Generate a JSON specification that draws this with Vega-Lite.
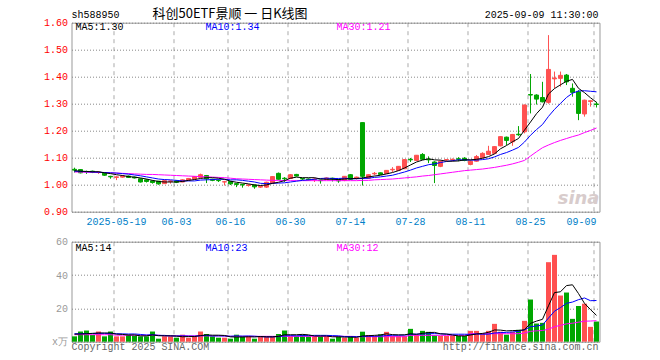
{
  "$schema": "https://vega.github.io/schema/vega-lite/v6.json",
  "background": "white",
  "padding": {"left": 0.5, "top": 6.7, "right": 0, "bottom": 0},
  "config": {
    "view": {"stroke": "#999999", "strokeWidth": 1},
    "font": "Liberation Mono",
    "axis": {"labelFont": "Liberation Mono", "labelFontSize": 10, "ticks": false, "domain": false, "title": null, "labelOverlap": false}
  },
  "data": {"values": [
    {"date":"2025-05-08","open":1.057,"high":1.063,"low":1.045,"close":1.054,"ma5":1.052,"ma10":1.050,"ma30":1.047,"vol":3.2,"vma5":4.5,"vma10":4.8,"vma30":4.2},
    {"date":"2025-05-09","open":1.056,"high":1.058,"low":1.042,"close":1.044,"ma5":1.050,"ma10":1.049,"ma30":1.047,"vol":6.1,"vma5":4.6,"vma10":4.8,"vma30":4.2},
    {"date":"2025-05-12","open":1.049,"high":1.052,"low":1.040,"close":1.048,"ma5":1.049,"ma10":1.048,"ma30":1.046,"vol":6.7,"vma5":4.8,"vma10":4.9,"vma30":4.2},
    {"date":"2025-05-13","open":1.050,"high":1.052,"low":1.043,"close":1.046,"ma5":1.048,"ma10":1.047,"ma30":1.046,"vol":4.0,"vma5":5.0,"vma10":4.9,"vma30":4.2},
    {"date":"2025-05-14","open":1.045,"high":1.050,"low":1.040,"close":1.047,"ma5":1.048,"ma10":1.046,"ma30":1.045,"vol":6.1,"vma5":5.22,"vma10":5.0,"vma30":4.2},
    {"date":"2025-05-15","open":1.043,"high":1.044,"low":1.033,"close":1.035,"ma5":1.044,"ma10":1.045,"ma30":1.045,"vol":3.2,"vma5":5.22,"vma10":5.0,"vma30":4.2},
    {"date":"2025-05-16","open":1.031,"high":1.033,"low":1.022,"close":1.029,"ma5":1.041,"ma10":1.044,"ma30":1.044,"vol":6.1,"vma5":5.22,"vma10":4.9,"vma30":4.2},
    {"date":"2025-05-19","open":1.027,"high":1.031,"low":1.017,"close":1.029,"ma5":1.037,"ma10":1.043,"ma30":1.043,"vol":3.2,"vma5":4.52,"vma10":4.8,"vma30":3.9},
    {"date":"2025-05-20","open":1.028,"high":1.035,"low":1.026,"close":1.032,"ma5":1.034,"ma10":1.041,"ma30":1.042,"vol":3.2,"vma5":4.36,"vma10":4.7,"vma30":3.9},
    {"date":"2025-05-21","open":1.032,"high":1.034,"low":1.025,"close":1.027,"ma5":1.030,"ma10":1.039,"ma30":1.041,"vol":4.2,"vma5":3.98,"vma10":4.6,"vma30":3.9},
    {"date":"2025-05-22","open":1.028,"high":1.030,"low":1.023,"close":1.025,"ma5":1.028,"ma10":1.036,"ma30":1.040,"vol":3.6,"vma5":4.06,"vma10":4.64,"vma30":3.9},
    {"date":"2025-05-23","open":1.022,"high":1.023,"low":1.008,"close":1.010,"ma5":1.025,"ma10":1.033,"ma30":1.039,"vol":3.2,"vma5":3.48,"vma10":4.35,"vma30":3.9},
    {"date":"2025-05-26","open":1.018,"high":1.020,"low":1.008,"close":1.012,"ma5":1.021,"ma10":1.029,"ma30":1.038,"vol":3.2,"vma5":3.48,"vma10":4.0,"vma30":3.9},
    {"date":"2025-05-27","open":1.014,"high":1.016,"low":1.004,"close":1.008,"ma5":1.016,"ma10":1.025,"ma30":1.038,"vol":6.1,"vma5":4.06,"vma10":4.21,"vma30":3.9},
    {"date":"2025-05-28","open":1.013,"high":1.014,"low":1.000,"close":1.003,"ma5":1.012,"ma10":1.021,"ma30":1.037,"vol":1.8,"vma5":3.58,"vma10":3.78,"vma30":3.9},
    {"date":"2025-05-29","open":1.004,"high":1.018,"low":1.003,"close":1.015,"ma5":1.010,"ma10":1.019,"ma30":1.036,"vol":3.2,"vma5":3.5,"vma10":3.78,"vma30":3.5},
    {"date":"2025-05-30","open":1.012,"high":1.016,"low":1.004,"close":1.014,"ma5":1.010,"ma10":1.018,"ma30":1.035,"vol":3.2,"vma5":3.5,"vma10":3.49,"vma30":3.5},
    {"date":"2025-06-03","open":1.014,"high":1.017,"low":1.006,"close":1.009,"ma5":1.010,"ma10":1.016,"ma30":1.034,"vol":2.4,"vma5":3.34,"vma10":3.41,"vma30":3.5},
    {"date":"2025-06-04","open":1.010,"high":1.020,"low":1.009,"close":1.018,"ma5":1.012,"ma10":1.014,"ma30":1.033,"vol":4.2,"vma5":2.96,"vma10":3.51,"vma30":3.5},
    {"date":"2025-06-05","open":1.017,"high":1.025,"low":1.016,"close":1.023,"ma5":1.016,"ma10":1.014,"ma30":1.032,"vol":2.4,"vma5":3.08,"vma10":3.33,"vma30":3.5},
    {"date":"2025-06-06","open":1.021,"high":1.032,"low":1.020,"close":1.030,"ma5":1.019,"ma10":1.014,"ma30":1.031,"vol":3.2,"vma5":3.08,"vma10":3.29,"vma30":3.5},
    {"date":"2025-06-09","open":1.027,"high":1.041,"low":1.026,"close":1.037,"ma5":1.023,"ma10":1.017,"ma30":1.030,"vol":6.1,"vma5":3.66,"vma10":3.58,"vma30":3.5},
    {"date":"2025-06-10","open":1.034,"high":1.036,"low":1.006,"close":1.022,"ma5":1.026,"ma10":1.018,"ma30":1.029,"vol":4.6,"vma5":4.1,"vma10":3.72,"vma30":3.5},
    {"date":"2025-06-11","open":1.020,"high":1.022,"low":1.013,"close":1.016,"ma5":1.026,"ma10":1.019,"ma30":1.028,"vol":3.2,"vma5":3.9,"vma10":3.43,"vma30":3.5},
    {"date":"2025-06-12","open":1.016,"high":1.020,"low":1.010,"close":1.015,"ma5":1.024,"ma10":1.020,"ma30":1.027,"vol":2.4,"vma5":3.9,"vma10":3.49,"vma30":3.5},
    {"date":"2025-06-13","open":1.010,"high":1.014,"low":0.997,"close":1.011,"ma5":1.020,"ma10":1.020,"ma30":1.026,"vol":2.4,"vma5":3.74,"vma10":3.41,"vma30":3.5},
    {"date":"2025-06-16","open":1.012,"high":1.013,"low":0.999,"close":1.003,"ma5":1.013,"ma10":1.018,"ma30":1.024,"vol":1.8,"vma5":2.88,"vma10":3.27,"vma30":3.2},
    {"date":"2025-06-17","open":1.004,"high":1.006,"low":0.991,"close":1.001,"ma5":1.009,"ma10":1.018,"ma30":1.022,"vol":4.2,"vma5":2.8,"vma10":3.45,"vma30":3.2},
    {"date":"2025-06-18","open":1.001,"high":1.003,"low":0.989,"close":0.999,"ma5":1.006,"ma10":1.016,"ma30":1.021,"vol":3.2,"vma5":2.8,"vma10":3.35,"vma30":3.2},
    {"date":"2025-06-19","open":0.997,"high":1.002,"low":0.993,"close":0.999,"ma5":1.003,"ma10":1.013,"ma30":1.020,"vol":3.2,"vma5":2.96,"vma10":3.43,"vma30":3.2},
    {"date":"2025-06-20","open":0.999,"high":1.000,"low":0.985,"close":0.992,"ma5":0.999,"ma10":1.010,"ma30":1.019,"vol":1.8,"vma5":2.84,"vma10":3.29,"vma30":3.2},
    {"date":"2025-06-23","open":0.991,"high":0.996,"low":0.988,"close":0.994,"ma5":0.997,"ma10":1.005,"ma30":1.018,"vol":3.2,"vma5":3.12,"vma10":3.0,"vma30":3.2},
    {"date":"2025-06-24","open":0.991,"high":1.011,"low":0.988,"close":1.009,"ma5":0.999,"ma10":1.004,"ma30":1.017,"vol":3.2,"vma5":2.92,"vma10":2.86,"vma30":3.2},
    {"date":"2025-06-25","open":1.006,"high":1.032,"low":1.004,"close":1.030,"ma5":1.005,"ma10":1.005,"ma30":1.016,"vol":3.2,"vma5":2.92,"vma10":2.86,"vma30":3.2},
    {"date":"2025-06-26","open":1.042,"high":1.045,"low":1.018,"close":1.020,"ma5":1.009,"ma10":1.006,"ma30":1.016,"vol":4.6,"vma5":3.2,"vma10":3.08,"vma30":3.2},
    {"date":"2025-06-27","open":1.024,"high":1.028,"low":1.010,"close":1.022,"ma5":1.015,"ma10":1.007,"ma30":1.015,"vol":6.7,"vma5":4.18,"vma10":3.51,"vma30":3.2},
    {"date":"2025-06-30","open":1.023,"high":1.039,"low":1.021,"close":1.037,"ma5":1.024,"ma10":1.010,"ma30":1.015,"vol":3.2,"vma5":4.18,"vma10":3.65,"vma30":3.2},
    {"date":"2025-07-01","open":1.038,"high":1.040,"low":1.031,"close":1.032,"ma5":1.028,"ma10":1.013,"ma30":1.015,"vol":3.2,"vma5":4.18,"vma10":3.55,"vma30":3.2},
    {"date":"2025-07-02","open":1.023,"high":1.024,"low":1.017,"close":1.021,"ma5":1.026,"ma10":1.016,"ma30":1.015,"vol":4.2,"vma5":4.38,"vma10":3.65,"vma30":3.2},
    {"date":"2025-07-03","open":1.021,"high":1.023,"low":1.016,"close":1.018,"ma5":1.026,"ma10":1.018,"ma30":1.015,"vol":3.2,"vma5":4.1,"vma10":3.65,"vma30":3.2},
    {"date":"2025-07-04","open":1.019,"high":1.026,"low":1.010,"close":1.021,"ma5":1.026,"ma10":1.020,"ma30":1.015,"vol":3.2,"vma5":3.4,"vma10":3.79,"vma30":3.2},
    {"date":"2025-07-07","open":1.017,"high":1.018,"low":1.004,"close":1.015,"ma5":1.021,"ma10":1.023,"ma30":1.015,"vol":3.2,"vma5":3.4,"vma10":3.79,"vma30":3.2},
    {"date":"2025-07-08","open":1.020,"high":1.027,"low":1.018,"close":1.025,"ma5":1.020,"ma10":1.024,"ma30":1.015,"vol":3.2,"vma5":3.4,"vma10":3.79,"vma30":3.2},
    {"date":"2025-07-09","open":1.024,"high":1.026,"low":1.012,"close":1.022,"ma5":1.020,"ma10":1.023,"ma30":1.015,"vol":1.8,"vma5":2.92,"vma10":3.65,"vma30":3.2},
    {"date":"2025-07-10","open":1.019,"high":1.020,"low":1.007,"close":1.014,"ma5":1.019,"ma10":1.023,"ma30":1.015,"vol":3.2,"vma5":2.92,"vma10":3.51,"vma30":3.2},
    {"date":"2025-07-11","open":1.016,"high":1.032,"low":1.013,"close":1.031,"ma5":1.021,"ma10":1.024,"ma30":1.015,"vol":2.4,"vma5":2.76,"vma10":3.08,"vma30":3.2},
    {"date":"2025-07-14","open":1.037,"high":1.039,"low":1.018,"close":1.020,"ma5":1.022,"ma10":1.022,"ma30":1.015,"vol":3.2,"vma5":2.76,"vma10":3.08,"vma30":3.2},
    {"date":"2025-07-15","open":1.025,"high":1.030,"low":1.019,"close":1.028,"ma5":1.023,"ma10":1.022,"ma30":1.015,"vol":2.4,"vma5":2.6,"vma10":3.0,"vma30":3.1},
    {"date":"2025-07-16","open":1.230,"high":1.230,"low":0.997,"close":1.031,"ma5":1.025,"ma10":1.023,"ma30":1.016,"vol":6.0,"vma5":3.44,"vma10":3.18,"vma30":3.0},
    {"date":"2025-07-17","open":1.024,"high":1.038,"low":1.022,"close":1.037,"ma5":1.029,"ma10":1.024,"ma30":1.016,"vol":4.0,"vma5":3.6,"vma10":3.26,"vma30":3.0},
    {"date":"2025-07-18","open":1.040,"high":1.047,"low":1.035,"close":1.042,"ma5":1.032,"ma10":1.027,"ma30":1.018,"vol":3.4,"vma5":3.8,"vma10":3.28,"vma30":3.0},
    {"date":"2025-07-21","open":1.044,"high":1.045,"low":1.036,"close":1.038,"ma5":1.035,"ma10":1.029,"ma30":1.019,"vol":4.4,"vma5":4.04,"vma10":3.4,"vma30":3.0},
    {"date":"2025-07-22","open":1.041,"high":1.054,"low":1.040,"close":1.053,"ma5":1.040,"ma10":1.032,"ma30":1.020,"vol":5.9,"vma5":4.74,"vma10":3.67,"vma30":3.0},
    {"date":"2025-07-23","open":1.055,"high":1.065,"low":1.047,"close":1.057,"ma5":1.045,"ma10":1.035,"ma30":1.021,"vol":3.4,"vma5":4.22,"vma10":3.83,"vma30":3.0},
    {"date":"2025-07-24","open":1.053,"high":1.069,"low":1.052,"close":1.068,"ma5":1.052,"ma10":1.041,"ma30":1.023,"vol":3.4,"vma5":4.1,"vma10":3.85,"vma30":3.0},
    {"date":"2025-07-25","open":1.059,"high":1.095,"low":1.058,"close":1.093,"ma5":1.062,"ma10":1.047,"ma30":1.025,"vol":3.4,"vma5":4.1,"vma10":3.95,"vma30":3.0},
    {"date":"2025-07-28","open":1.094,"high":1.099,"low":1.084,"close":1.092,"ma5":1.073,"ma10":1.054,"ma30":1.027,"vol":7.7,"vma5":4.76,"vma10":4.4,"vma30":3.8},
    {"date":"2025-07-29","open":1.090,"high":1.110,"low":1.088,"close":1.109,"ma5":1.084,"ma10":1.062,"ma30":1.029,"vol":4.0,"vma5":4.38,"vma10":4.56,"vma30":3.8},
    {"date":"2025-07-30","open":1.112,"high":1.117,"low":1.092,"close":1.094,"ma5":1.091,"ma10":1.068,"ma30":1.032,"vol":6.5,"vma5":5.0,"vma10":4.61,"vma30":3.8},
    {"date":"2025-07-31","open":1.094,"high":1.105,"low":1.080,"close":1.092,"ma5":1.096,"ma10":1.074,"ma30":1.034,"vol":5.9,"vma5":5.5,"vma10":4.8,"vma30":3.8},
    {"date":"2025-08-01","open":1.084,"high":1.087,"low":1.006,"close":1.071,"ma5":1.092,"ma10":1.077,"ma30":1.037,"vol":3.8,"vma5":5.58,"vma10":4.84,"vma30":3.8},
    {"date":"2025-08-04","open":1.068,"high":1.090,"low":1.065,"close":1.087,"ma5":1.091,"ma10":1.082,"ma30":1.040,"vol":3.4,"vma5":4.72,"vma10":4.74,"vma30":3.8},
    {"date":"2025-08-05","open":1.092,"high":1.095,"low":1.088,"close":1.093,"ma5":1.087,"ma10":1.086,"ma30":1.043,"vol":3.4,"vma5":4.6,"vma10":4.49,"vma30":3.8},
    {"date":"2025-08-06","open":1.092,"high":1.097,"low":1.087,"close":1.094,"ma5":1.087,"ma10":1.089,"ma30":1.046,"vol":3.4,"vma5":3.98,"vma10":4.49,"vma30":3.8},
    {"date":"2025-08-07","open":1.096,"high":1.102,"low":1.087,"close":1.094,"ma5":1.088,"ma10":1.092,"ma30":1.049,"vol":3.4,"vma5":3.48,"vma10":4.49,"vma30":3.8},
    {"date":"2025-08-08","open":1.098,"high":1.102,"low":1.087,"close":1.090,"ma5":1.092,"ma10":1.092,"ma30":1.052,"vol":3.4,"vma5":3.4,"vma10":4.49,"vma30":3.8},
    {"date":"2025-08-11","open":1.075,"high":1.090,"low":1.072,"close":1.087,"ma5":1.092,"ma10":1.091,"ma30":1.054,"vol":6.5,"vma5":4.02,"vma10":4.37,"vma30":4.8},
    {"date":"2025-08-12","open":1.087,"high":1.110,"low":1.085,"close":1.104,"ma5":1.094,"ma10":1.091,"ma30":1.056,"vol":6.5,"vma5":4.64,"vma10":4.62,"vma30":4.8},
    {"date":"2025-08-13","open":1.100,"high":1.120,"low":1.098,"close":1.116,"ma5":1.098,"ma10":1.093,"ma30":1.058,"vol":5.0,"vma5":4.96,"vma10":4.47,"vma30":4.8},
    {"date":"2025-08-14","open":1.112,"high":1.144,"low":1.110,"close":1.124,"ma5":1.104,"ma10":1.096,"ma30":1.061,"vol":6.5,"vma5":5.58,"vma10":4.53,"vma30":4.8},
    {"date":"2025-08-15","open":1.116,"high":1.143,"low":1.114,"close":1.141,"ma5":1.114,"ma10":1.103,"ma30":1.064,"vol":10.7,"vma5":7.04,"vma10":5.22,"vma30":4.8},
    {"date":"2025-08-18","open":1.144,"high":1.180,"low":1.142,"close":1.178,"ma5":1.133,"ma10":1.112,"ma30":1.068,"vol":6.0,"vma5":6.94,"vma10":5.48,"vma30":4.8},
    {"date":"2025-08-19","open":1.176,"high":1.178,"low":1.147,"close":1.164,"ma5":1.145,"ma10":1.119,"ma30":1.072,"vol":4.2,"vma5":6.48,"vma10":5.56,"vma30":4.8},
    {"date":"2025-08-20","open":1.159,"high":1.188,"low":1.144,"close":1.186,"ma5":1.159,"ma10":1.128,"ma30":1.077,"vol":5.9,"vma5":6.66,"vma10":5.81,"vma30":4.8},
    {"date":"2025-08-21","open":1.187,"high":1.217,"low":1.181,"close":1.185,"ma5":1.171,"ma10":1.138,"ma30":1.083,"vol":7.1,"vma5":6.78,"vma10":6.18,"vma30":4.8},
    {"date":"2025-08-22","open":1.196,"high":1.297,"low":1.190,"close":1.295,"ma5":1.202,"ma10":1.158,"ma30":1.090,"vol":12.5,"vma5":7.14,"vma10":7.09,"vma30":5.2},
    {"date":"2025-08-25","open":1.334,"high":1.410,"low":1.264,"close":1.332,"ma5":1.232,"ma10":1.183,"ma30":1.106,"vol":25.3,"vma5":11.0,"vma10":8.97,"vma30":6.2},
    {"date":"2025-08-26","open":1.332,"high":1.335,"low":1.297,"close":1.317,"ma5":1.263,"ma10":1.204,"ma30":1.122,"vol":10.9,"vma5":12.34,"vma10":9.41,"vma30":6.5},
    {"date":"2025-08-27","open":1.323,"high":1.381,"low":1.305,"close":1.307,"ma5":1.287,"ma10":1.223,"ma30":1.137,"vol":11.3,"vma5":13.42,"vma10":10.04,"vma30":6.7},
    {"date":"2025-08-28","open":1.305,"high":1.554,"low":1.300,"close":1.427,"ma5":1.336,"ma10":1.253,"ma30":1.147,"vol":47.7,"vma5":21.54,"vma10":14.16,"vma30":7.5},
    {"date":"2025-08-29","open":1.392,"high":1.419,"low":1.357,"close":1.395,"ma5":1.356,"ma10":1.279,"ma30":1.156,"vol":52.1,"vma5":29.46,"vma10":18.3,"vma30":9.0},
    {"date":"2025-09-01","open":1.394,"high":1.419,"low":1.363,"close":1.405,"ma5":1.370,"ma10":1.301,"ma30":1.164,"vol":27.7,"vma5":29.94,"vma10":20.47,"vma30":9.8},
    {"date":"2025-09-02","open":1.406,"high":1.410,"low":1.369,"close":1.381,"ma5":1.383,"ma10":1.323,"ma30":1.171,"vol":29.5,"vma5":33.66,"vma10":23.0,"vma30":10.7},
    {"date":"2025-09-03","open":1.357,"high":1.375,"low":1.326,"close":1.342,"ma5":1.390,"ma10":1.339,"ma30":1.178,"vol":13.7,"vma5":34.14,"vma10":23.78,"vma30":11.1},
    {"date":"2025-09-04","open":1.344,"high":1.350,"low":1.239,"close":1.264,"ma5":1.357,"ma10":1.347,"ma30":1.184,"vol":21.4,"vma5":28.88,"vma10":25.21,"vma30":11.7},
    {"date":"2025-09-05","open":1.262,"high":1.315,"low":1.252,"close":1.313,"ma5":1.341,"ma10":1.348,"ma30":1.193,"vol":22.8,"vma5":23.02,"vma10":26.24,"vma30":12.3},
    {"date":"2025-09-08","open":1.308,"high":1.313,"low":1.289,"close":1.311,"ma5":1.322,"ma10":1.346,"ma30":1.201,"vol":8.9,"vma5":19.26,"vma10":24.6,"vma30":12.4},
    {"date":"2025-09-09","open":1.299,"high":1.307,"low":1.286,"close":1.297,"ma5":1.305,"ma10":1.344,"ma30":1.210,"vol":12.1,"vma5":15.78,"vma10":24.72,"vma30":12.6}
  ]},
  "spacing": 30,
  "bounds": "flush",
  "vconcat": [
    {
      "width": 528,
      "height": 189,
      "layer": [
        {
          "mark": {"type": "rule", "strokeWidth": 1},
          "encoding": {
            "x": {"field": "date", "type": "ordinal", "scale": {"type": "band", "paddingInner": 0, "paddingOuter": 0},
              "axis": {"values": ["2025-05-19","2025-06-03","2025-06-16","2025-06-30","2025-07-14","2025-07-28","2025-08-11","2025-08-25","2025-09-09"],
                "labelExpr": "datum.value == '2025-05-19' ? datum.value : slice(datum.value, 5)",
                "labelAngle": 0, "bandPosition": 0.05, "grid": true, "gridDash": [4, 4], "gridColor": "#aaaaaa",
                "labelColor": "#0080c8", "labelPadding": 5, "labelOverlap": false,
                "labelAlign": {"condition": {"test": "datum.value == '2025-09-09'", "value": "right"}, "value": "center"}}},
            "y": {"field": "low", "type": "quantitative", "scale": {"domain": [0.9, 1.6], "zero": false, "nice": false},
              "axis": {"values": [0.9, 1.0, 1.1, 1.2, 1.3, 1.4, 1.5, 1.6], "tickCount": 20, "format": ".2f", "labelColor": "#ff0000", "labelOverlap": false,
                "grid": true, "gridDash": [1, 2], "gridColor": "#888888", "labelPadding": 4, "minExtent": 70, "maxExtent": 70}},
            "y2": {"field": "high"},
            "color": {"condition": {"test": "datum.close >= datum.open", "value": "#ff5050"}, "value": "#00a600"}
          }
        },
        {
          "mark": {"type": "bar", "width": 4, "strokeWidth": 1},
          "encoding": {
            "x": {"field": "date", "type": "ordinal"},
            "y": {"field": "open", "type": "quantitative"},
            "y2": {"field": "close"},
            "fill": {"condition": {"test": "datum.close >= datum.open", "value": "#ff5050"}, "value": "#00a600"},
            "stroke": {"condition": {"test": "datum.close >= datum.open", "value": "#ff5050"}, "value": "#00a600"}
          }
        },
        {"mark": {"type": "line", "color": "#ff00ff", "strokeWidth": 1}, "encoding": {"x": {"field": "date", "type": "ordinal"}, "y": {"field": "ma30", "type": "quantitative"}}},
        {"mark": {"type": "line", "color": "#0000ff", "strokeWidth": 1}, "encoding": {"x": {"field": "date", "type": "ordinal"}, "y": {"field": "ma10", "type": "quantitative"}}},
        {"mark": {"type": "line", "color": "#000000", "strokeWidth": 1}, "encoding": {"x": {"field": "date", "type": "ordinal"}, "y": {"field": "ma5", "type": "quantitative"}}},
        {"data": {"values": [{}]}, "mark": {"type": "text", "text": "sh588950", "align": "left", "baseline": "alphabetic", "dx": -3, "fontSize": 10, "font": "Liberation Mono", "color": "#000000", "clip": false},
          "encoding": {"x": {"datum": "2025-05-08", "type": "ordinal"}, "y": {"datum": 1.6178, "type": "quantitative"}}},
        {"data": {"values": [{}]}, "mark": {"type": "text", "text": "科创50ETF景顺  一  日K线图", "align": "left", "baseline": "alphabetic", "dx": 0, "fontSize": 13, "font": "Noto Sans CJK SC", "color": "#000000", "clip": false},
          "encoding": {"x": {"datum": "2025-05-27", "type": "ordinal"}, "y": {"datum": 1.6178, "type": "quantitative"}}},
        {"data": {"values": [{}]}, "mark": {"type": "text", "text": "2025-09-09 11:30:00", "align": "right", "baseline": "alphabetic", "dx": 2, "fontSize": 10, "font": "Liberation Mono", "color": "#000000", "clip": false},
          "encoding": {"x": {"datum": "2025-09-09", "type": "ordinal"}, "y": {"datum": 1.6178, "type": "quantitative"}}},
        {"data": {"values": [{}]}, "mark": {"type": "text", "text": "MA5:1.30", "align": "left", "baseline": "alphabetic", "dx": 1, "fontSize": 10, "font": "Liberation Mono", "color": "#000000"},
          "encoding": {"x": {"datum": "2025-05-08", "type": "ordinal"}, "y": {"datum": 1.573, "type": "quantitative"}}},
        {"data": {"values": [{}]}, "mark": {"type": "text", "text": "MA10:1.34", "align": "left", "baseline": "alphabetic", "dx": -1, "fontSize": 10, "font": "Liberation Mono", "color": "#0000ff"},
          "encoding": {"x": {"datum": "2025-06-10", "type": "ordinal"}, "y": {"datum": 1.573, "type": "quantitative"}}},
        {"data": {"values": [{}]}, "mark": {"type": "text", "text": "MA30:1.21", "align": "left", "baseline": "alphabetic", "dx": -2, "fontSize": 10, "font": "Liberation Mono", "color": "#ff00ff"},
          "encoding": {"x": {"datum": "2025-07-10", "type": "ordinal"}, "y": {"datum": 1.573, "type": "quantitative"}}},
        {"data": {"values": [{}]}, "mark": {"type": "text", "text": "sina", "align": "right", "baseline": "alphabetic", "dx": 3, "fontSize": 18, "font": "DejaVu Sans", "fontStyle": "italic", "fontWeight": "bold", "color": "#d8cccc"},
          "encoding": {"x": {"datum": "2025-09-09", "type": "ordinal"}, "y": {"datum": 0.928, "type": "quantitative"}}}
      ]
    },
    {
      "width": 528,
      "height": 100,
      "layer": [
        {
          "mark": {"type": "bar", "width": 5},
          "encoding": {
            "x": {"field": "date", "type": "ordinal", "scale": {"type": "band", "paddingInner": 0, "paddingOuter": 0},
              "axis": {"values": ["2025-05-19","2025-06-03","2025-06-16","2025-06-30","2025-07-14","2025-07-28","2025-08-11","2025-08-25","2025-09-09"],
                "labels": false, "bandPosition": 0.05, "grid": true, "gridDash": [4, 4], "gridColor": "#aaaaaa"}},
            "y": {"field": "vol", "type": "quantitative", "scale": {"domain": [0, 60], "nice": false},
              "axis": {"values": [0, 20, 40, 60], "tickCount": 20, "labelExpr": "datum.value == 0 ? 'x万' : datum.label", "labelColor": "#999999", "labelOverlap": false,
                "grid": true, "gridDash": [1, 2], "gridColor": "#888888", "labelPadding": 4, "minExtent": 70, "maxExtent": 70}},
            "color": {"condition": {"test": "datum.close >= datum.open", "value": "#ff5050"}, "value": "#00a600"}
          }
        },
        {"mark": {"type": "line", "color": "#ff00ff", "strokeWidth": 1}, "encoding": {"x": {"field": "date", "type": "ordinal"}, "y": {"field": "vma30", "type": "quantitative"}}},
        {"mark": {"type": "line", "color": "#0000ff", "strokeWidth": 1}, "encoding": {"x": {"field": "date", "type": "ordinal"}, "y": {"field": "vma10", "type": "quantitative"}}},
        {"mark": {"type": "line", "color": "#000000", "strokeWidth": 1}, "encoding": {"x": {"field": "date", "type": "ordinal"}, "y": {"field": "vma5", "type": "quantitative"}}},
        {"data": {"values": [{}]}, "mark": {"type": "text", "text": "MA5:14", "align": "left", "baseline": "alphabetic", "dx": 1, "fontSize": 10, "font": "Liberation Mono", "color": "#000000"},
          "encoding": {"x": {"datum": "2025-05-08", "type": "ordinal"}, "y": {"datum": 54.6, "type": "quantitative"}}},
        {"data": {"values": [{}]}, "mark": {"type": "text", "text": "MA10:23", "align": "left", "baseline": "alphabetic", "dx": -1, "fontSize": 10, "font": "Liberation Mono", "color": "#0000ff"},
          "encoding": {"x": {"datum": "2025-06-10", "type": "ordinal"}, "y": {"datum": 54.6, "type": "quantitative"}}},
        {"data": {"values": [{}]}, "mark": {"type": "text", "text": "MA30:12", "align": "left", "baseline": "alphabetic", "dx": -2, "fontSize": 10, "font": "Liberation Mono", "color": "#ff00ff"},
          "encoding": {"x": {"datum": "2025-07-10", "type": "ordinal"}, "y": {"datum": 54.6, "type": "quantitative"}}},
        {"data": {"values": [{}]}, "mark": {"type": "text", "text": "Copyright 2025 SINA.COM", "align": "left", "baseline": "alphabetic", "dx": -3, "fontSize": 10, "font": "Liberation Mono", "color": "#666666", "clip": false},
          "encoding": {"x": {"datum": "2025-05-08", "type": "ordinal"}, "y": {"datum": -4.7, "type": "quantitative"}}},
        {"data": {"values": [{}]}, "mark": {"type": "text", "text": "http://finance.sina.com.cn", "align": "right", "baseline": "alphabetic", "dx": 2, "fontSize": 10, "font": "Liberation Mono", "color": "#666666", "clip": false},
          "encoding": {"x": {"datum": "2025-09-09", "type": "ordinal"}, "y": {"datum": -4.7, "type": "quantitative"}}}
      ]
    }
  ]
}
